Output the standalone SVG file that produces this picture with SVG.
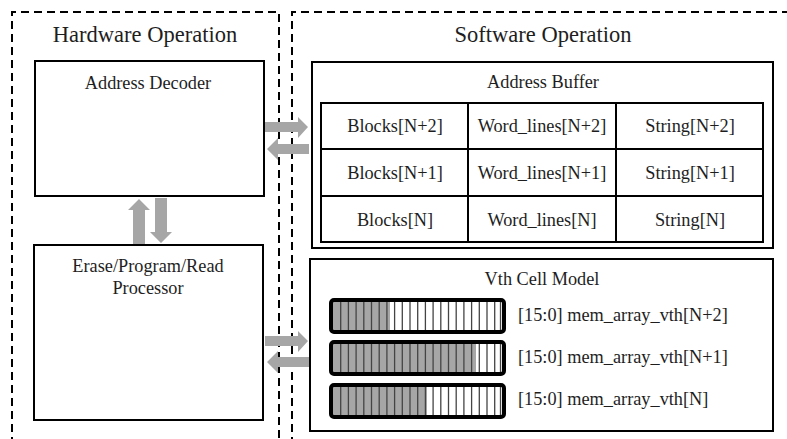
<svg xmlns="http://www.w3.org/2000/svg" width="787" height="439" viewBox="0 0 787 439">
  <style>
    .dash { fill: none; stroke: #000; stroke-width: 2; stroke-dasharray: 8 5; }
    .box { fill: #fff; stroke: #000; stroke-width: 2; }
    .cell { fill: none; stroke: #000; stroke-width: 2; }
    .t { font-family: "Liberation Serif", "Times New Roman", serif; fill: #1e1e1e; }
    .title { font-size: 22.5px; text-anchor: middle; }
    .lbl { font-size: 18.3px; text-anchor: middle; }
    .vl { font-size: 18.3px; }
    .arrow { fill: #a6a6a6; }
    .fill { fill: #a6a6a6; }
    .stripe { stroke: #444; stroke-width: 1.3; }
    .bar { fill: none; stroke: #000; stroke-width: 4; }
  </style>
  <defs>
    <!-- one 16-bit cell row: stripes across the inner area -->
    <g id="stripes">
      <line class="stripe" x1="340.7" y1="0" x2="340.7" y2="31"/>
      <line class="stripe" x1="348.4" y1="0" x2="348.4" y2="31"/>
      <line class="stripe" x1="356.1" y1="0" x2="356.1" y2="31"/>
      <line class="stripe" x1="363.8" y1="0" x2="363.8" y2="31"/>
      <line class="stripe" x1="371.5" y1="0" x2="371.5" y2="31"/>
      <line class="stripe" x1="379.2" y1="0" x2="379.2" y2="31"/>
      <line class="stripe" x1="386.9" y1="0" x2="386.9" y2="31"/>
      <line class="stripe" x1="394.6" y1="0" x2="394.6" y2="31"/>
      <line class="stripe" x1="402.3" y1="0" x2="402.3" y2="31"/>
      <line class="stripe" x1="410.0" y1="0" x2="410.0" y2="31"/>
      <line class="stripe" x1="417.7" y1="0" x2="417.7" y2="31"/>
      <line class="stripe" x1="425.4" y1="0" x2="425.4" y2="31"/>
      <line class="stripe" x1="433.1" y1="0" x2="433.1" y2="31"/>
      <line class="stripe" x1="440.8" y1="0" x2="440.8" y2="31"/>
      <line class="stripe" x1="448.5" y1="0" x2="448.5" y2="31"/>
      <line class="stripe" x1="456.2" y1="0" x2="456.2" y2="31"/>
      <line class="stripe" x1="463.9" y1="0" x2="463.9" y2="31"/>
      <line class="stripe" x1="471.6" y1="0" x2="471.6" y2="31"/>
      <line class="stripe" x1="479.3" y1="0" x2="479.3" y2="31"/>
      <line class="stripe" x1="487.0" y1="0" x2="487.0" y2="31"/>
      <line class="stripe" x1="494.7" y1="0" x2="494.7" y2="31"/>
      <line class="stripe" x1="500.5" y1="0" x2="500.5" y2="31"/>
    </g>
  </defs>

  <!-- operation domains -->
  <g id="hardware-domain">
    <path class="dash" d="M12 445 V12 H279 V445"/>
    <text class="t title" x="145" y="42">Hardware Operation</text>
  </g>
  <g id="software-domain">
    <path class="dash" d="M292 445 V12 H795"/>
    <text class="t title" x="543" y="42">Software Operation</text>
  </g>

  <g id="address-decoder">
    <rect class="box" x="35" y="61" width="229" height="135"/>
    <text class="t lbl" x="148" y="89">Address Decoder</text>
  </g>

  <g id="erase-program-read-processor">
    <rect class="box" x="34" y="245" width="229" height="175"/>
    <text class="t lbl" x="148" y="272">Erase/Program/Read</text>
    <text class="t lbl" x="148" y="294">Processor</text>
  </g>

  <g id="address-buffer">
    <rect class="box" x="312" y="62" width="461" height="186"/>
    <text class="t lbl" x="543" y="88">Address Buffer</text>
    <rect class="cell" x="321" y="103" width="442" height="139"/>
    <line class="cell" x1="321" y1="149" x2="763" y2="149"/>
    <line class="cell" x1="321" y1="196" x2="763" y2="196"/>
    <line class="cell" x1="468" y1="103" x2="468" y2="242"/>
    <line class="cell" x1="616" y1="103" x2="616" y2="242"/>
    <text class="t lbl" x="395" y="132">Blocks[N+2]</text>
    <text class="t lbl" x="542" y="132">Word_lines[N+2]</text>
    <text class="t lbl" x="690" y="132">String[N+2]</text>
    <text class="t lbl" x="395" y="179">Blocks[N+1]</text>
    <text class="t lbl" x="542" y="179">Word_lines[N+1]</text>
    <text class="t lbl" x="690" y="179">String[N+1]</text>
    <text class="t lbl" x="395" y="226">Blocks[N]</text>
    <text class="t lbl" x="542" y="226">Word_lines[N]</text>
    <text class="t lbl" x="690" y="226">String[N]</text>
  </g>

  <g id="vth-cell-model">
    <rect class="box" x="310" y="259" width="463" height="172"/>
    <text class="t lbl" x="542" y="285">Vth Cell Model</text>

    <rect class="fill" x="332" y="301" width="58" height="30"/>
    <use href="#stripes" y="300"/>
    <rect class="bar" x="331" y="300" width="173" height="32" rx="3"/>
    <text class="t vl" x="518" y="321">[15:0] mem_array_vth[N+2]</text>

    <rect class="fill" x="332" y="343" width="144" height="30"/>
    <use href="#stripes" y="342"/>
    <rect class="bar" x="331" y="342" width="173" height="32" rx="3"/>
    <text class="t vl" x="518" y="363">[15:0] mem_array_vth[N+1]</text>

    <rect class="fill" x="332" y="386" width="95" height="30"/>
    <use href="#stripes" y="385"/>
    <rect class="bar" x="331" y="385" width="173" height="32" rx="3"/>
    <text class="t vl" x="518" y="405">[15:0] mem_array_vth[N]</text>
  </g>

  <g id="connectors">
    <!-- decoder <-> address buffer -->
    <polygon class="arrow" points="265,122 298,122 298,117 308,127 298,138 298,132 265,132"/>
    <polygon class="arrow" points="309,144 278,144 278,138 267,149 278,160 278,154 309,154"/>
    <!-- decoder <-> processor -->
    <polygon class="arrow" points="133,244 133,210 128,210 139,199 150,210 145,210 145,244"/>
    <polygon class="arrow" points="155,198 155,232 150,232 161,243 172,232 167,232 167,198"/>
    <!-- processor <-> cell model -->
    <polygon class="arrow" points="265,336 298,336 298,331 308,341 298,352 298,346 265,346"/>
    <polygon class="arrow" points="309,357 278,357 278,351 267,362 278,373 278,367 309,367"/>
  </g>
</svg>
